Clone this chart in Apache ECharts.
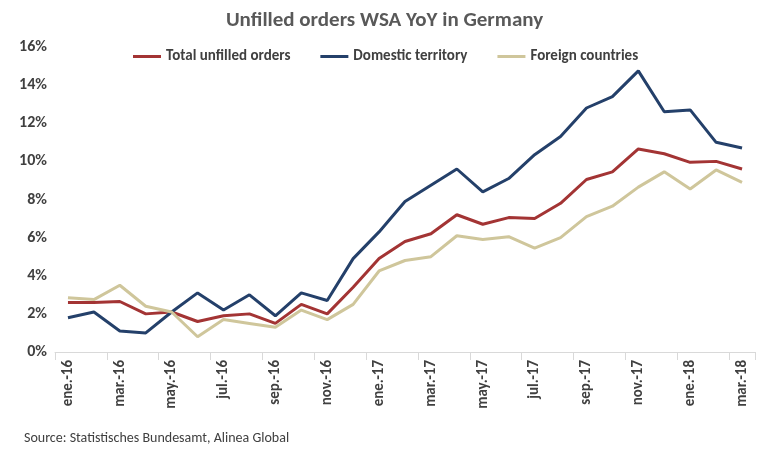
<!DOCTYPE html><html><head><meta charset="utf-8"><script src="https://cdn.jsdelivr.net/npm/echarts@6/dist/echarts.min.js"></script></head><body style="margin:0"><div id="c" style="width:769px;height:460px"></div><script>
const categories=['ene.-16','feb.-16','mar.-16','abr.-16','may.-16','jun.-16','jul.-16','ago.-16','sep.-16','oct.-16','nov.-16','dic.-16','ene.-17','feb.-17','mar.-17','abr.-17','may.-17','jun.-17','jul.-17','ago.-17','sep.-17','oct.-17','nov.-17','dic.-17','ene.-18','feb.-18','mar.-18'];
const total=[2.6,2.6,2.65,2.0,2.1,1.6,1.9,2.0,1.5,2.5,2.0,3.4,4.9,5.8,6.2,7.2,6.7,7.05,7.0,7.8,9.05,9.45,10.65,10.4,9.95,10.0,9.6];
const domestic=[1.8,2.1,1.1,1.0,2.1,3.1,2.2,3.0,1.9,3.1,2.7,4.9,6.3,7.9,8.75,9.6,8.4,9.1,10.35,11.3,12.8,13.4,14.75,12.6,12.7,11.0,10.7];
const foreign=[2.85,2.75,3.5,2.4,2.1,0.8,1.7,1.5,1.3,2.2,1.7,2.5,4.25,4.8,5.0,6.1,5.9,6.05,5.45,6.0,7.1,7.65,8.65,9.45,8.55,9.55,8.9];
const f='Calibri, Carlito, Lato, sans-serif';
const mk=(n,d,c)=>({name:n,type:'line',data:d,symbol:'none',lineStyle:{color:c,width:3},itemStyle:{color:c}});
echarts.init(document.getElementById('c')).setOption({
title:{text:'Unfilled orders WSA YoY in Germany',left:'center',top:5,textStyle:{fontFamily:f,fontSize:21,fontWeight:'bold',color:'#595959'}},
legend:{top:44,left:128,itemGap:30,itemWidth:28,itemHeight:3,icon:'rect',textStyle:{fontFamily:f,fontSize:15,fontWeight:'bold',color:'#404040'}},
grid:{left:55,right:14,top:47,bottom:108},
xAxis:{type:'category',data:categories,axisTick:{show:true,interval:1,length:8,lineStyle:{color:'#d9d9d9'}},axisLine:{lineStyle:{color:'#d9d9d9'}},axisLabel:{interval:1,rotate:90,fontFamily:f,fontSize:15,fontWeight:'bold',color:'#404040'}},
yAxis:{type:'value',min:0,max:16,interval:2,splitLine:{show:false},axisLabel:{formatter:'{value}%',fontFamily:f,fontSize:16,fontWeight:'bold',color:'#404040'}},
graphic:[{type:'text',left:24,top:431,style:{text:'Source: Statistisches Bundesamt, Alinea Global',font:'14px '+f,fill:'#404040'}}],
series:[mk('Total unfilled orders',total,'#a33434'),mk('Domestic territory',domestic,'#24406a'),mk('Foreign countries',foreign,'#cfc69b')]
});
</script></body></html>
